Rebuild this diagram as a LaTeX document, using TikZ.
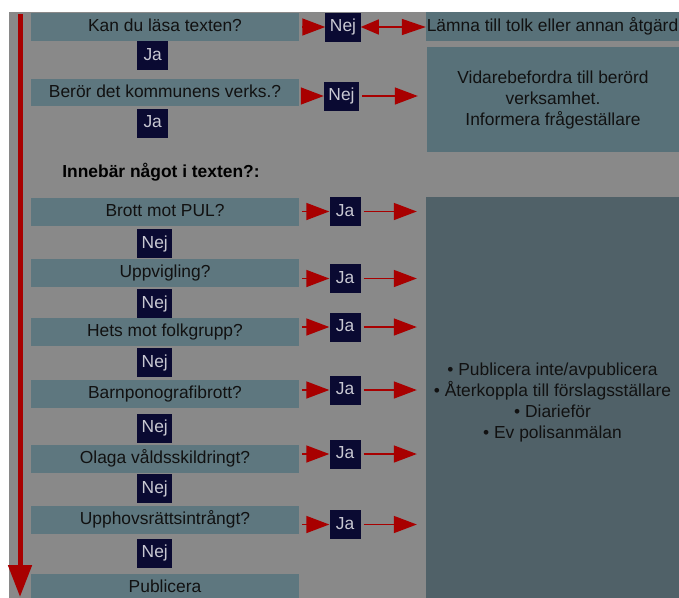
\documentclass[tikz,border=0pt]{standalone}
\usepackage{fontspec}
\setmainfont{Liberation Sans}
\usetikzlibrary{arrows.meta}
\definecolor{bgc}{HTML}{898989}
\definecolor{boxc}{HTML}{5E777F}
\definecolor{rboxc}{HTML}{587179}
\definecolor{bigc}{HTML}{506168}
\definecolor{navy}{HTML}{0A0A32}
\definecolor{ltxt}{HTML}{C8C8D2}
\definecolor{dtxt}{HTML}{111111}
\definecolor{redc}{HTML}{A80000}
\newcommand\myfs{\fontsize{17.4}{21}\selectfont}
\tikzset{
  qbox/.style={fill=boxc, text=dtxt, font=\myfs, minimum width=268pt, minimum height=28pt, inner sep=0pt, text height=12.5pt, text depth=3.5pt},
  yn/.style={fill=navy, text=ltxt, font=\myfs, minimum width=31pt, minimum height=29pt, inner xsep=4.5pt, inner ysep=0pt, text height=12.5pt, text depth=3.5pt},
  rbox/.style={fill=rboxc, text=dtxt, font=\myfs, inner sep=0pt, align=center},
  arr/.style={draw=redc, line width=1.5pt, -{Triangle[length=23pt,width=17pt]}, shorten <=3pt},
  arrr/.style={draw=redc, line width=1.5pt, -{Triangle[length=23pt,width=17pt]}, shorten <=3pt, shorten >=9pt},
  vline/.style={draw=redc, line width=5pt, -{Triangle[length=32pt,width=23pt]}},
}
\begin{document}
\begin{tikzpicture}[x=1pt,y=-1pt]
\useasboundingbox (0,0) rectangle (679,597);
\fill[white] (0,0) rectangle (679,597);
\clip (0,0) rectangle (679,597);
\fill[bgc] (9,12) rectangle (679,610);

% left column
\node[qbox] (q1) at (165,26.5) {Kan du läsa texten?};
\node[yn, anchor=west] (ja1) at (137,55.5) {Ja};
\node[qbox, minimum height=27pt] (q2) at (165,92.5) {Berör det kommunens verks.?};
\node[yn, anchor=west] (ja2) at (137,123) {Ja};
\node[font=\myfs\bfseries, text=black, inner sep=0pt] (head) at (161,172) {Innebär något i texten?:};

\node[qbox] (b1) at (165,211.5) {Brott mot PUL?};
\node[yn, anchor=west] (n1) at (137,243.5) {Nej};
\node[qbox] (b2) at (165,273) {Uppvigling?};
\node[yn, anchor=west] (n2) at (137,303.5) {Nej};
\node[qbox] (b3) at (165,332) {Hets mot folkgrupp?};
\node[yn, anchor=west] (n3) at (137,362.5) {Nej};
\node[qbox] (b4) at (165,393.5) {Barnponografibrott?};
\node[yn, anchor=west] (n4) at (137,428) {Nej};
\node[qbox] (b5) at (165,459) {Olaga våldsskildringt?};
\node[yn, anchor=west] (n5) at (137,488.5) {Nej};
\node[qbox] (b6) at (165,520) {Upphovsrättsintrångt?};
\node[yn, anchor=west] (n6) at (137,553) {Nej};
\node[qbox] (pub) at (165,588) {Publicera};

% right boxes
\node[rbox, minimum width=253pt, minimum height=29pt] (lamna) at (552.5,26.5) {Lämna till tolk eller annan åtgärd};
\node[rbox, minimum width=252pt, minimum height=105pt] (vid) at (553,99.5) {Vidarebefordra till berörd\\verksamhet.\\Informera frågeställare};
\node[rbox, fill=bigc, minimum width=253pt, minimum height=410pt] (big) at (552.5,402)
  {• Publicera inte/avpublicera\\• Återkoppla till förslagsställare\\• Diarieför\\• Ev polisanmälan};

% middle Nej/Ja boxes
\node[yn, minimum width=34pt] (r1) at (343,27) {Nej};
\node[yn, minimum width=35pt] (r2) at (341.5,96) {Nej};
\node[yn] (y1) at (345,211.5) {Ja};
\node[yn] (y2) at (345,278.5) {Ja};
\node[yn] (y3) at (345,327) {Ja};
\node[yn] (y4) at (345,390) {Ja};
\node[yn] (y5) at (345,454) {Ja};
\node[yn] (y6) at (345,524.5) {Ja};

% connectors
\draw[arr] (q1.east |- r1) -- (r1);
\draw[draw=redc, line width=1.5pt, {Triangle[length=18pt,width=15pt]}-{Triangle[length=24pt,width=16pt]}] (r1) -- (lamna.west |- r1);
\draw[arr] (q2.east |- r2) -- (r2);
\draw[arrr] (r2) -- (vid.west |- r2);
\foreach \b/\y in {b1/y1,b2/y2,b3/y3,b4/y4,b5/y5,b6/y6}{
  \draw[arr] (\b.east |- \y) -- (\y);
  \draw[arrr] (\y) -- (big.west |- \y);
}

\coordinate (vtop) at (20,14);
\coordinate (vbot) at (20,597);
\draw[vline] (vtop) -- (vbot);
\end{tikzpicture}
\end{document}
